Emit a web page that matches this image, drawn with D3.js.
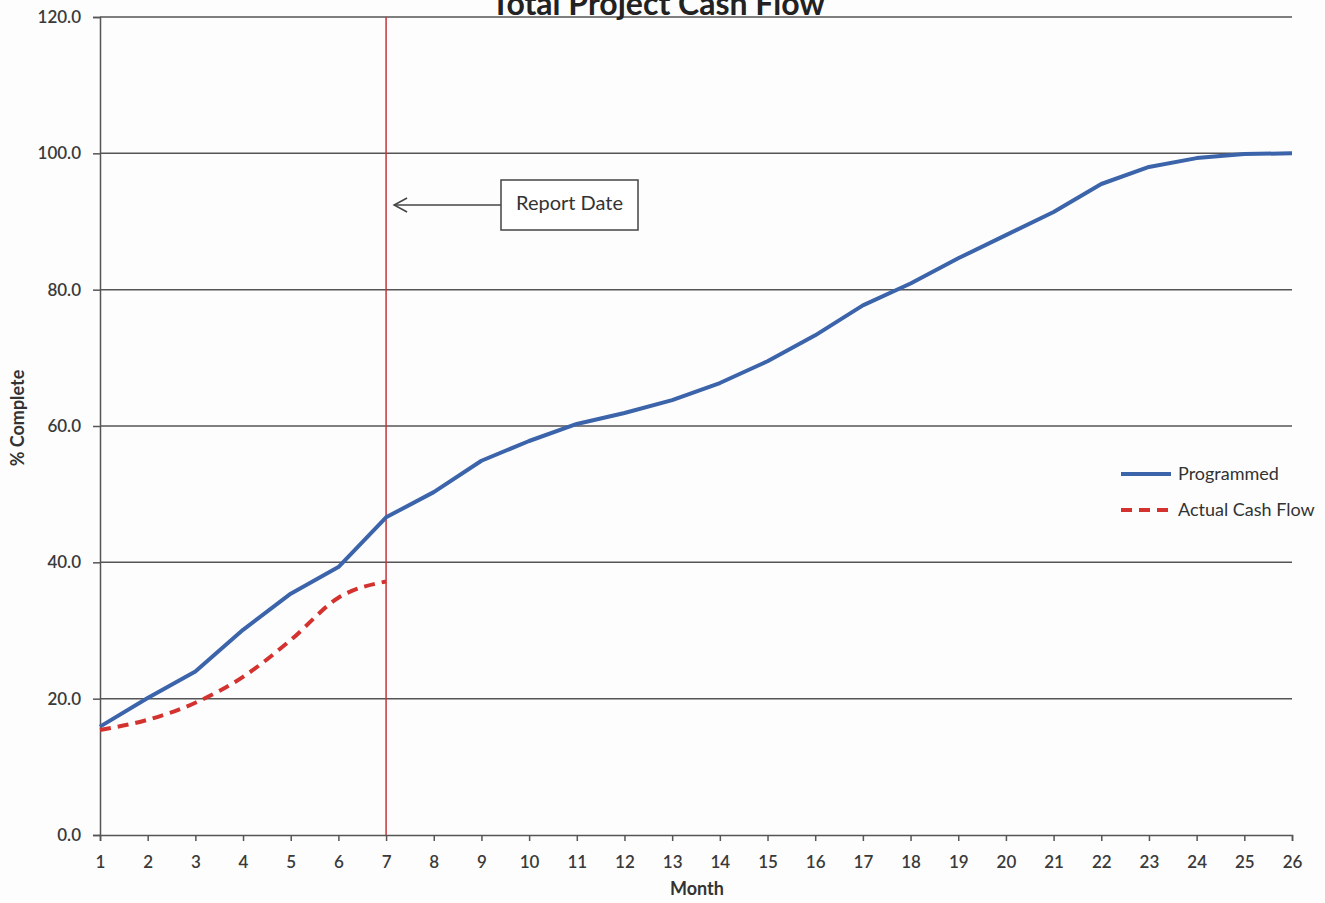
<!DOCTYPE html>
<html>
<head>
<meta charset="utf-8">
<script src="https://cdn.jsdelivr.net/npm/d3@7"></script>
<style>
  html, body { margin: 0; padding: 0; background: #fdfdfd; }
  svg { display: block; font-family: Lato, "Open Sans", sans-serif; }
</style>
</head>
<body>
<svg id="chart" width="1325" height="903"></svg>
<script>
// Months on the x axis
const months = d3.range(1, 27);
// Programmed cumulative cash flow (% complete)
const programmed = [15.9, 20.1, 24.0, 30.1, 35.4, 39.3, 46.6, 50.3, 54.9, 57.8, 60.3, 61.9, 63.8, 66.3, 69.5, 73.3, 77.7, 80.9, 84.6, 88.0, 91.4, 95.5, 98.0, 99.3, 99.9, 100.0];
// Actual cash flow to the report date (% complete)
const actual = [15.4, 16.9, 19.4, 23.2, 28.6, 34.8, 37.2];
// Axis ticks
const yTicks = [0, 20, 40, 60, 80, 100, 120];
const reportMonth = 7;

const svg = d3.select("#chart");
const margin = { left: 100, right: 33, top: 17, bottom: 68 };
const W = 1325, H = 903;

const x = d3.scaleLinear().domain([1, 26]).range([margin.left, W - margin.right]);
const y = d3.scaleLinear().domain([0, 120]).range([H - margin.bottom, margin.top]);

const axisColor = "#555";
const textColor = "#3a3a3a";

// Horizontal gridlines
svg.append("g")
  .selectAll("line")
  .data(yTicks.filter(d => d > 0))
  .join("line")
  .attr("x1", x(1)).attr("x2", x(26))
  .attr("y1", d => y(d)).attr("y2", d => y(d))
  .attr("stroke", axisColor).attr("stroke-width", 1.5);

// Y axis
const yAxis = svg.append("g")
  .attr("transform", `translate(${x(1)},0)`)
  .call(d3.axisLeft(y).tickValues(yTicks).tickFormat(d3.format(".1f")).tickSize(7).tickPadding(12));
yAxis.select(".domain").attr("stroke", axisColor).attr("stroke-width", 1.5);
yAxis.selectAll(".tick line").attr("stroke", axisColor).attr("stroke-width", 1.5);
yAxis.selectAll(".tick text")
  .attr("fill", textColor).attr("font-size", 17).attr("font-weight", 600)
  .attr("font-family", "Lato, sans-serif");

// X axis
const xAxis = svg.append("g")
  .attr("transform", `translate(0,${y(0)})`)
  .call(d3.axisBottom(x).tickValues(months).tickFormat(d3.format("d")).tickSize(6).tickSizeOuter(6).tickPadding(15));
xAxis.select(".domain").attr("stroke", axisColor).attr("stroke-width", 1.5);
xAxis.selectAll(".tick line").attr("stroke", axisColor).attr("stroke-width", 1.5);
xAxis.selectAll(".tick text")
  .attr("fill", textColor).attr("font-size", 17).attr("font-weight", 600)
  .attr("font-family", "Lato, sans-serif");

// Report date marker
svg.append("line")
  .attr("x1", x(reportMonth)).attr("x2", x(reportMonth))
  .attr("y1", y(120)).attr("y2", y(0))
  .attr("stroke", "#c4343c").attr("stroke-width", 1.5);

// Programmed: straight segments between monthly points
const progLine = d3.line()
  .x((d, i) => x(months[i]))
  .y(d => y(d));

// Actual: smoothed
const actLine = d3.line()
  .x((d, i) => x(months[i]))
  .y(d => y(d))
  .curve(d3.curveMonotoneX);

svg.append("path")
  .datum(programmed)
  .attr("d", progLine)
  .attr("fill", "none")
  .attr("stroke", "#3b64aa")
  .attr("stroke-width", 4)
  .attr("stroke-linejoin", "round");

svg.append("path")
  .datum(actual)
  .attr("d", actLine)
  .attr("fill", "none")
  .attr("stroke", "#d3322f")
  .attr("stroke-width", 4)
  .attr("stroke-dasharray", "11,7");

// Title (sits at the very top edge of the chart)
svg.append("text")
  .attr("x", 658).attr("y", 15)
  .attr("text-anchor", "middle")
  .attr("font-size", 32).attr("font-weight", 700)
  .attr("fill", "#222")
  .text("Total Project Cash Flow");

// Axis titles
svg.append("text")
  .attr("x", 697).attr("y", 895)
  .attr("text-anchor", "middle")
  .attr("font-size", 18).attr("font-weight", 700)
  .attr("fill", "#333")
  .text("Month");

svg.append("text")
  .attr("transform", `translate(24,418) rotate(-90)`)
  .attr("text-anchor", "middle")
  .attr("font-size", 18).attr("font-weight", 700)
  .attr("fill", "#333")
  .text("% Complete");

// Report Date callout
const box = { x: 501, y: 180, w: 137, h: 50 };
svg.append("rect")
  .attr("x", box.x).attr("y", box.y).attr("width", box.w).attr("height", box.h)
  .attr("fill", "#fff").attr("stroke", "#444").attr("stroke-width", 1.5);
svg.append("text")
  .attr("x", box.x + box.w / 2).attr("y", box.y + box.h / 2)
  .attr("text-anchor", "middle").attr("dominant-baseline", "middle")
  .attr("font-size", 20).attr("fill", "#333")
  .text("Report Date");
const arrowY = 205;
const tipX = x(reportMonth) + 8;
svg.append("line")
  .attr("x1", box.x).attr("x2", tipX)
  .attr("y1", arrowY).attr("y2", arrowY)
  .attr("stroke", "#444").attr("stroke-width", 1.5);
svg.append("path")
  .attr("d", `M${tipX + 13},${arrowY - 7} L${tipX},${arrowY} L${tipX + 13},${arrowY + 7}`)
  .attr("fill", "none").attr("stroke", "#444").attr("stroke-width", 1.5);

// Legend
const legend = [
  { name: "Programmed", color: "#3b64aa", dash: null, y: 474 },
  { name: "Actual Cash Flow", color: "#d3322f", dash: "11,7", y: 510 }
];
const lg = svg.append("g");
lg.selectAll("line")
  .data(legend)
  .join("line")
  .attr("x1", 1121).attr("x2", 1171)
  .attr("y1", d => d.y).attr("y2", d => d.y)
  .attr("stroke", d => d.color).attr("stroke-width", 4)
  .attr("stroke-dasharray", d => d.dash);
lg.selectAll("text")
  .data(legend)
  .join("text")
  .attr("x", 1178).attr("y", d => d.y + 1)
  .attr("dominant-baseline", "middle")
  .attr("font-size", 18).attr("fill", "#333")
  .text(d => d.name);
</script>
</body>
</html>
